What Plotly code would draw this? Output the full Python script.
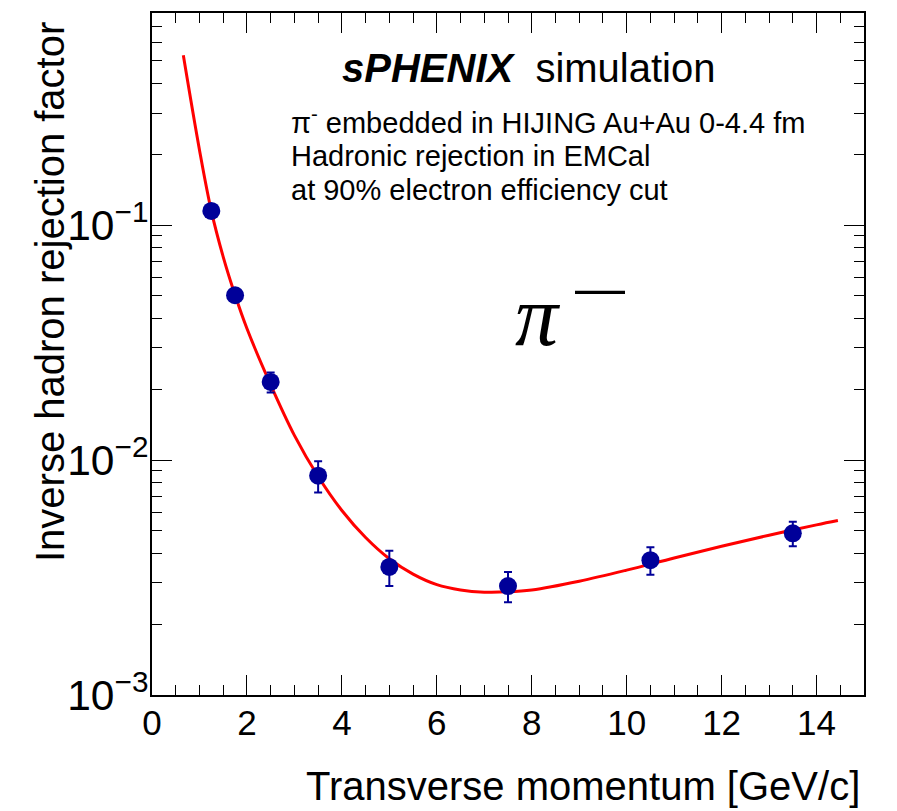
import plotly.graph_objects as go

# Measured inverse rejection factor vs pT
pt = [1.25, 1.75, 2.5, 3.5, 5.0, 7.5, 10.5, 13.5]
inv_rej = [0.115, 0.0503, 0.0215, 0.00858, 0.00351, 0.00291, 0.00375, 0.00488]
inv_rej_err = [0.005, 0.003, 0.0021, 0.0013, 0.0006, 0.00043, 0.0005, 0.00058]

# Fit curve sampled along pT
fit_pt = [0.66, 1.0, 1.25, 1.5, 1.75, 2.0, 2.5, 3.0, 3.5, 4.0, 4.5, 5.0, 5.5,
          6.0, 6.5, 7.0, 7.5, 8.0, 9.0, 10.0, 11.0, 12.0, 13.0, 14.0, 14.45]
fit_val = [0.528, 0.209, 0.115, 0.0733, 0.0504, 0.0363, 0.0209, 0.01274, 0.00851,
           0.0061, 0.00468, 0.0038, 0.00327, 0.00295, 0.0028, 0.00274, 0.002748,
           0.0028, 0.00305, 0.0034, 0.00383, 0.0043, 0.00479, 0.0053, 0.00553]

x_tickvals = [0, 2, 4, 6, 8, 10, 12, 14]
x_ticktext = ["0", "2", "4", "6", "8", "10", "12", "14"]

FONT = "Liberation Sans, Arial, Helvetica, sans-serif"

fig = go.Figure()

fig.add_trace(go.Scatter(
    x=fit_pt, y=fit_val, mode="lines",
    line=dict(color="#ff0000", width=3, shape="spline", smoothing=1.0),
    hoverinfo="skip", showlegend=False,
))

fig.add_trace(go.Scatter(
    x=pt, y=inv_rej, mode="markers",
    marker=dict(color="#000099", size=18, symbol="circle"),
    error_y=dict(type="data", array=inv_rej_err, visible=True,
                 color="#000099", thickness=2, width=4),
    showlegend=False,
))

fig.update_xaxes(
    range=[0, 15], tickvals=x_tickvals, ticktext=x_ticktext,
    showgrid=False, zeroline=False,
    showline=True, linecolor="black", linewidth=1.5, mirror="ticks",
    ticks="inside", ticklen=20, tickwidth=1, tickcolor="black",
    minor=dict(ticks="inside", ticklen=10, dtick=0.5, tickwidth=1,
               tickcolor="black", showgrid=False),
    tickfont=dict(family=FONT, size=35, color="black"),
    ticklabelstandoff=-4,
)

fig.update_yaxes(
    type="log", range=[-3, -0.097], dtick=1, exponentformat="power",
    showgrid=False, zeroline=False,
    showline=True, linecolor="black", linewidth=1.5, mirror="ticks",
    ticks="inside", ticklen=20, tickwidth=1, tickcolor="black",
    minor=dict(ticks="inside", ticklen=10, dtick="D1", tickwidth=1,
               tickcolor="black", showgrid=False),
    tickfont=dict(family=FONT, size=34, color="black"),
    ticklabelstandoff=-5,
)

annotations = [
    dict(text="<b><i>sPHENIX</i></b>  simulation", x=(340 - 152) / 712, y=(695 - 68) / 682,
         xanchor="left", yanchor="middle", font=dict(family=FONT, size=40, color="black")),
    dict(text="π<sup>-</sup> embedded in HIJING Au+Au 0-4.4 fm", x=(289 - 152) / 712,
         y=(695 - 121) / 682, xanchor="left", yanchor="middle",
         font=dict(family=FONT, size=29, color="black")),
    dict(text="Hadronic rejection in EMCal", x=(289 - 152) / 712,
         y=(695 - 156) / 682, xanchor="left", yanchor="middle",
         font=dict(family=FONT, size=29, color="black")),
    dict(text="at 90% electron efficiency cut", x=(289 - 152) / 712,
         y=(695 - 190) / 682, xanchor="left", yanchor="middle",
         font=dict(family=FONT, size=29, color="black")),
    dict(text="<i>π</i>", x=(538 - 152) / 712, y=(695 - 316) / 682,
         xanchor="center", yanchor="middle",
         font=dict(family="Liberation Serif, Times New Roman, serif", size=86, color="black")),
    dict(text="—", x=(600 - 152) / 712, y=(695 - 288) / 682,
         xanchor="center", yanchor="middle",
         font=dict(family=FONT, size=50, color="black")),
    dict(text="Transverse momentum [GeV/c]", x=(862 - 152) / 712, y=(695 - 786) / 682,
         xanchor="right", yanchor="middle", font=dict(family=FONT, size=40, color="black")),
    dict(text="Inverse hadron rejection factor", x=(50 - 152) / 712, y=(695 - 20) / 682,
         xanchor="center", yanchor="top", textangle=-90,
         font=dict(family=FONT, size=40, color="black")),
]
for a in annotations:
    a.update(xref="paper", yref="paper", showarrow=False)

fig.update_layout(
    width=897, height=811,
    margin=dict(l=152, r=33, t=13, b=116),
    paper_bgcolor="white", plot_bgcolor="white",
    annotations=annotations,
    showlegend=False,
)

fig.write_html("out.html")
